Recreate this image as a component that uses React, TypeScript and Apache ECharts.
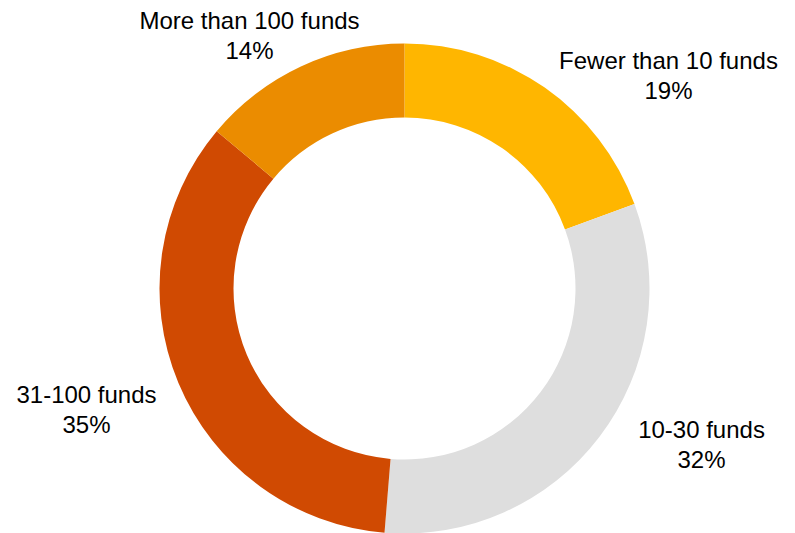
import React, { useEffect, useRef } from 'react';
import * as echarts from 'echarts';

// Data (shares read from slice boundaries; labels show rounded values)
const categories = ['Fewer than 10 funds', '10-30 funds', '31-100 funds', 'More than 100 funds'];
const shares = [19.4, 31.9, 34.8, 13.9];

// Styles / layout (kept separate from data)
const colors = ['#FFB600', '#DEDEDE', '#D04A02', '#EB8C00'];
const CENTER: [number, number] = [404.5, 288.5];
const RADII: [number, number] = [171, 245];
const LABEL_OFFSETS: [number, number][] = [
  [264, -213],
  [297, 156],
  [-318, 121],
  [-155, -253],
];

export default function App() {
  const ref = useRef<HTMLDivElement>(null);
  useEffect(() => {
    document.body.style.margin = '0';
    if (!ref.current) return;
    const chart = echarts.init(ref.current, undefined, { renderer: 'svg' });
    chart.setOption({
      animation: false,
      backgroundColor: '#FFFFFF',
      series: [
        {
          type: 'pie',
          center: CENTER,
          radius: RADII,
          startAngle: 90,
          clockwise: true,
          avoidLabelOverlap: false,
          silent: true,
          itemStyle: { borderWidth: 0 },
          label: {
            show: true,
            position: 'outside',
            formatter: (p: any) => `${p.name}\n${Math.round(p.value)}%`,
            fontFamily: 'Liberation Sans, Arial, sans-serif',
            fontSize: 24,
            lineHeight: 30,
            color: '#000000',
            align: 'center',
          },
          labelLine: { show: false },
          labelLayout: (params: any) => {
            const o = LABEL_OFFSETS[params.dataIndex];
            return {
              x: CENTER[0] + o[0],
              y: CENTER[1] + o[1],
              align: 'center',
              verticalAlign: 'middle',
            };
          },
          data: categories.map((name, i) => ({
            name,
            value: shares[i],
            itemStyle: { color: colors[i] },
          })),
        },
      ],
    });
    return () => chart.dispose();
  }, []);
  return <div ref={ref} style={{ width: 795, height: 533 }} />;
}
